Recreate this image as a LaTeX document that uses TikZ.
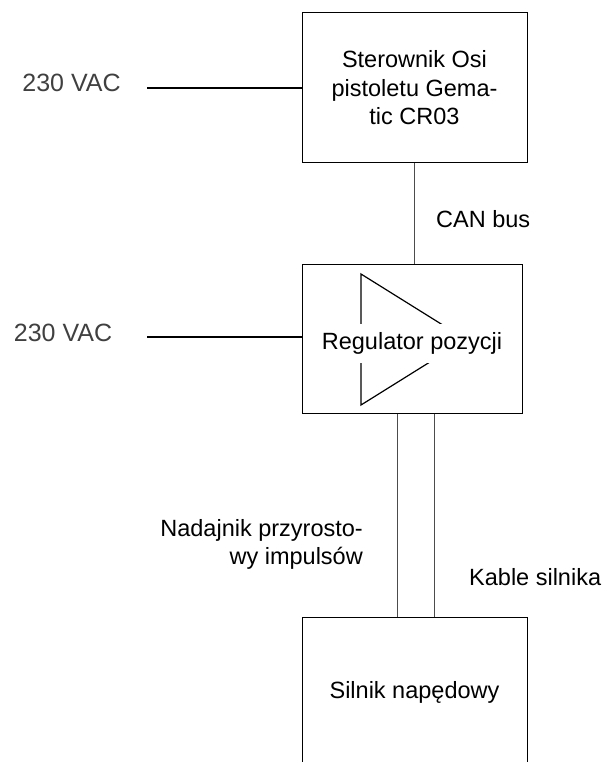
\documentclass[tikz,border=0pt]{standalone}
\usepackage{fontspec}
\setmainfont{Liberation Sans}
\usetikzlibrary{positioning, calc}
\tikzset{
	block/.style={rectangle, draw, line width=1pt, minimum width=225pt, minimum height=150pt, align=center, inner sep=0pt},
	txt/.style={inner sep=0pt, align=center, font=\fontsize{23.5}{28.5}\selectfont},
	line/.style={draw, line width=1.2pt}
}

\begin{document}
\begin{tikzpicture}[
		x=1pt, y=-1pt,
		pwr/.style={inner sep=0pt, text=black!75, font=\fontsize{25}{30}\selectfont},
		wire/.style={draw, line width=0.9pt, black!70}
		]
		\useasboundingbox (0,0) rectangle (606,762);
		\clip (0,0) rectangle (606,762);
		
		% --- Blocks ---
		\node[block, txt] (ster) at (414.5,88) {Sterownik Osi\\pistoletu Gema-\\tic CR03};
		\node[block, minimum width=220pt, minimum height=149pt] (reg) at (412,338.5) {};
		\node[block, txt] (mot) at (414.5,692) {Silnik napędowy};
		
		% --- Amplifier symbol inside the regulator ---
		\coordinate (tri_a) at (361,274);
		\coordinate (tri_b) at (466,339.5);
		\coordinate (tri_c) at (361,405);
		\draw[line width=1.2pt] (tri_a) -- (tri_b) -- (tri_c) -- cycle;
		\node[txt, fill=white, inner xsep=4pt, minimum height=39pt] (reg_lbl) at (412,343.5) {Regulator pozycji};
		
		% --- Supply inputs ---
		\node[pwr] (pwr1_lbl) at (71.5,83) {230 VAC};
		\node[pwr] (pwr2_lbl) at (63,333) {230 VAC};
		\coordinate (pwr1) at (147,88);
		\coordinate (pwr2) at (147,337);
		\draw[line] (pwr1) -- (pwr1 -| ster.west);
		\draw[line] (pwr2) -- (pwr2 -| reg.west);
		
		% --- CAN bus between controller and regulator ---
		\draw[wire] (ster.south) -- (ster.south |- reg.north);
		\node[txt, anchor=west] (can_lbl) at (436,219) {CAN bus};
		
		% --- Encoder and motor cables ---
		\draw[wire] ($(reg.south)+(-15,0)$) -- ($(mot.north)+(-17.5,0)$);
		\draw[wire] ($(reg.south)+(22,0)$) -- ($(mot.north)+(19.5,0)$);
		\node[txt, anchor=east, align=right] (enc_lbl) at (363,544.5) {Nadajnik przyrosto-\\wy impulsów};
		\node[txt, anchor=west] (cable_lbl) at (469,577) {Kable silnika};
		
	\end{tikzpicture}
\end{document}
